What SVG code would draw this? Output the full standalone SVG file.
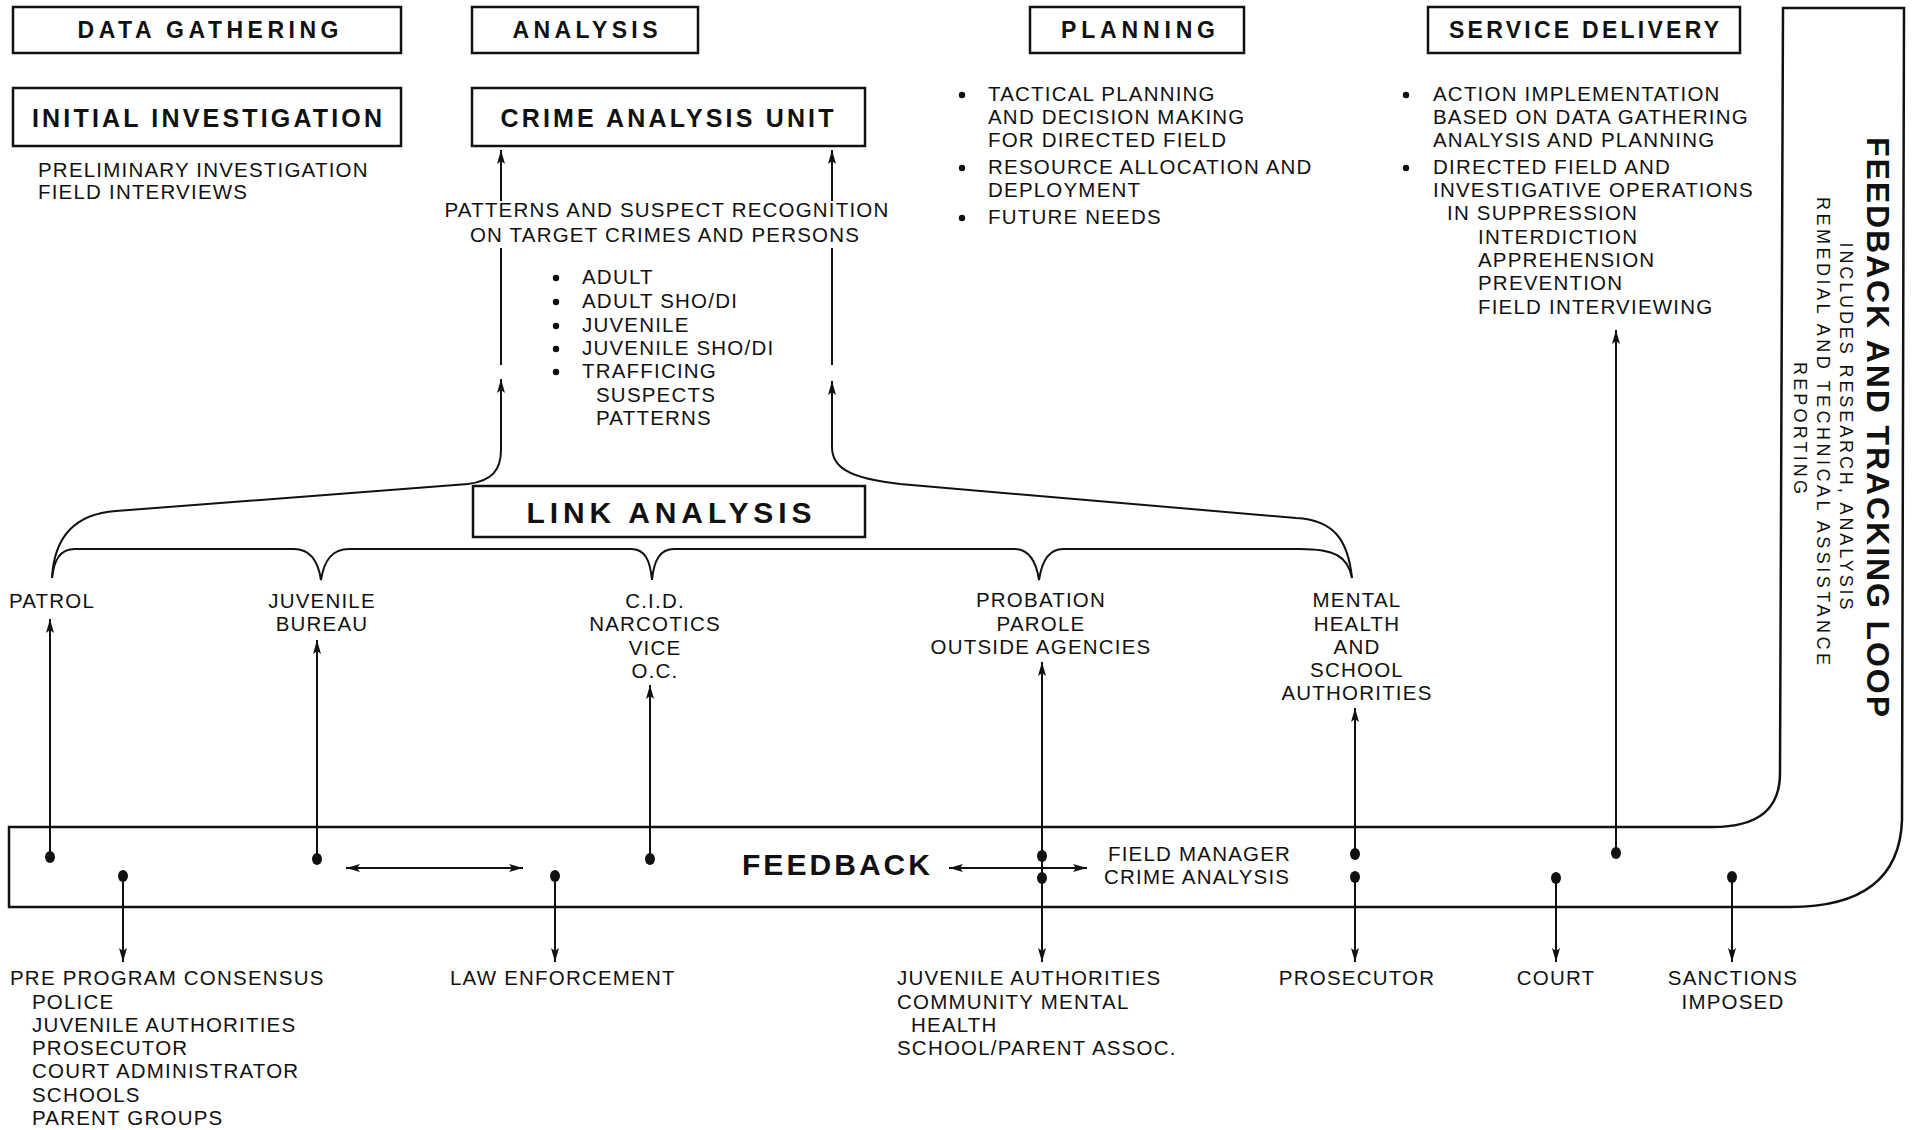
<svg xmlns="http://www.w3.org/2000/svg" width="1912" height="1130" viewBox="0 0 1912 1130">
  <defs>
    <marker id="ah" viewBox="0 0 14 8" refX="14" refY="4" markerWidth="14" markerHeight="8" markerUnits="userSpaceOnUse" orient="auto-start-reverse">
      <path d="M0,0 L14,4 L0,8 L3,4 z" fill="#111"/>
    </marker>
    <style>
      .box { fill: none; stroke: #111; stroke-width: 2.5; }
      .ln { fill: none; stroke: #111; stroke-width: 2; }
      .arr { fill: none; stroke: #111; stroke-width: 2; marker-end: url(#ah); }
      .dbl { fill: none; stroke: #111; stroke-width: 2; marker-start: url(#ah); marker-end: url(#ah); }
      .dot { fill: #111; }
      text { font-family: "Liberation Sans", Arial, sans-serif; fill: #111; }
      .hd { font-weight: bold; font-size: 23px; text-anchor: middle; }
      .hd2 { font-weight: bold; font-size: 25px; text-anchor: middle; }
      .t { font-size: 20.5px; letter-spacing: 1.2px; }
      .c { text-anchor: middle; }
      .vt { font-size: 18px; text-anchor: middle; }
    </style>
  </defs>
  <rect width="1912" height="1130" fill="#fff"/>

  <!-- stage headers -->
  <g id="data-gathering">
    <rect class="box" x="13" y="7" width="388" height="46"/>
    <text class="hd" x="208" y="38" textLength="261">DATA GATHERING</text>
  </g>
  <g id="analysis">
    <rect class="box" x="472" y="7" width="226" height="46"/>
    <text class="hd" x="585" y="38" textLength="145">ANALYSIS</text>
  </g>
  <g id="planning">
    <rect class="box" x="1030" y="7" width="214" height="46"/>
    <text class="hd" x="1138" y="38" textLength="154">PLANNING</text>
  </g>
  <g id="service-delivery">
    <rect class="box" x="1428" y="7" width="312" height="46"/>
    <text class="hd" x="1584" y="38" textLength="270">SERVICE DELIVERY</text>
  </g>

  <!-- second row -->
  <g id="initial-investigation">
    <rect class="box" x="13" y="88" width="388" height="58"/>
    <text class="hd2" x="207" y="127" textLength="350">INITIAL INVESTIGATION</text>
    <text class="t" x="38" y="177">PRELIMINARY INVESTIGATION</text>
    <text class="t" x="38" y="199">FIELD INTERVIEWS</text>
  </g>
  <g id="crime-analysis-unit">
    <rect class="box" x="472" y="88" width="393" height="58"/>
    <text class="hd2" x="667" y="127" textLength="333">CRIME ANALYSIS UNIT</text>
  </g>

  <g id="recognition">
    <text class="t c" x="667" y="217">PATTERNS AND SUSPECT RECOGNITION</text>
    <text class="t c" x="665" y="242">ON TARGET CRIMES AND PERSONS</text>
    <circle class="dot" cx="556" cy="278" r="3.2"/>
    <circle class="dot" cx="556" cy="302" r="3.2"/>
    <circle class="dot" cx="556" cy="326" r="3.2"/>
    <circle class="dot" cx="556" cy="349" r="3.2"/>
    <circle class="dot" cx="556" cy="372" r="3.2"/>
    <text class="t" x="582" y="284">ADULT</text>
    <text class="t" x="582" y="308">ADULT SHO/DI</text>
    <text class="t" x="582" y="332">JUVENILE</text>
    <text class="t" x="582" y="355">JUVENILE SHO/DI</text>
    <text class="t" x="582" y="378">TRAFFICING</text>
    <text class="t" x="596" y="402">SUSPECTS</text>
    <text class="t" x="596" y="425">PATTERNS</text>
  </g>

  <g id="planning-items">
    <circle class="dot" cx="962" cy="95" r="3.2"/>
    <circle class="dot" cx="962" cy="168" r="3.2"/>
    <circle class="dot" cx="962" cy="218" r="3.2"/>
    <text class="t" x="988" y="101">TACTICAL PLANNING</text>
    <text class="t" x="988" y="124">AND DECISION MAKING</text>
    <text class="t" x="988" y="147">FOR DIRECTED FIELD</text>
    <text class="t" x="988" y="174">RESOURCE ALLOCATION AND</text>
    <text class="t" x="988" y="197">DEPLOYMENT</text>
    <text class="t" x="988" y="224">FUTURE NEEDS</text>
  </g>

  <g id="service-items">
    <circle class="dot" cx="1406" cy="95" r="3.2"/>
    <circle class="dot" cx="1406" cy="168" r="3.2"/>
    <text class="t" x="1433" y="101">ACTION IMPLEMENTATION</text>
    <text class="t" x="1433" y="124">BASED ON DATA GATHERING</text>
    <text class="t" x="1433" y="147">ANALYSIS AND PLANNING</text>
    <text class="t" x="1433" y="174">DIRECTED FIELD AND</text>
    <text class="t" x="1433" y="197">INVESTIGATIVE OPERATIONS</text>
    <text class="t" x="1447" y="220">IN SUPPRESSION</text>
    <text class="t" x="1478" y="244">INTERDICTION</text>
    <text class="t" x="1478" y="267">APPREHENSION</text>
    <text class="t" x="1478" y="290">PREVENTION</text>
    <text class="t" x="1478" y="314">FIELD INTERVIEWING</text>
  </g>

  <g id="link-analysis">
    <rect class="box" x="473" y="486" width="392" height="51"/>
    <text x="669" y="523" font-size="30" font-weight="bold" text-anchor="middle" textLength="285">LINK ANALYSIS</text>
  </g>

  <!-- source units -->
  <g id="patrol">
    <text class="t c" x="52" y="608">PATROL</text>
  </g>
  <g id="juvenile-bureau">
    <text class="t c" x="322" y="608">JUVENILE</text>
    <text class="t c" x="322" y="631">BUREAU</text>
  </g>
  <g id="cid">
    <text class="t c" x="655" y="608">C.I.D.</text>
    <text class="t c" x="655" y="631">NARCOTICS</text>
    <text class="t c" x="655" y="655">VICE</text>
    <text class="t c" x="655" y="678">O.C.</text>
  </g>
  <g id="probation">
    <text class="t c" x="1041" y="607">PROBATION</text>
    <text class="t c" x="1041" y="631">PAROLE</text>
    <text class="t c" x="1041" y="654">OUTSIDE AGENCIES</text>
  </g>
  <g id="mental-health">
    <text class="t c" x="1357" y="607">MENTAL</text>
    <text class="t c" x="1357" y="631">HEALTH</text>
    <text class="t c" x="1357" y="654">AND</text>
    <text class="t c" x="1357" y="677">SCHOOL</text>
    <text class="t c" x="1357" y="700">AUTHORITIES</text>
  </g>

  <!-- feedback band and tracking loop -->
  <g id="feedback-loop">
    <path class="box" d="M9 827 L1712 827 C1760 827 1780 808 1780 773 L1783 8 L1904 8 L1902 820 C1900 878 1862 907 1790 907 L9 907 Z"/>
    <text x="742" y="875" font-size="30" font-weight="bold" textLength="188">FEEDBACK</text>
    <text class="t" x="1108" y="861">FIELD MANAGER</text>
    <text class="t" x="1104" y="884">CRIME ANALYSIS</text>
    <text transform="translate(1867,427) rotate(90)" font-size="32" font-weight="bold" text-anchor="middle" textLength="580">FEEDBACK AND TRACKING LOOP</text>
    <text class="vt" transform="translate(1840,426) rotate(90)" textLength="367">INCLUDES RESEARCH, ANALYSIS</text>
    <text class="vt" transform="translate(1817,431) rotate(90)" textLength="468">REMEDIAL AND TECHNICAL ASSISTANCE</text>
    <text class="vt" transform="translate(1794,428) rotate(90)" textLength="132">REPORTING</text>
  </g>

  <!-- recipients -->
  <g id="pre-program">
    <text class="t" x="10" y="985">PRE PROGRAM CONSENSUS</text>
    <text class="t" x="32" y="1009">POLICE</text>
    <text class="t" x="32" y="1032">JUVENILE AUTHORITIES</text>
    <text class="t" x="32" y="1055">PROSECUTOR</text>
    <text class="t" x="32" y="1078">COURT ADMINISTRATOR</text>
    <text class="t" x="32" y="1102">SCHOOLS</text>
    <text class="t" x="32" y="1125">PARENT GROUPS</text>
  </g>
  <g id="law-enforcement">
    <text class="t" x="450" y="985">LAW ENFORCEMENT</text>
  </g>
  <g id="juvenile-authorities">
    <text class="t" x="897" y="985">JUVENILE AUTHORITIES</text>
    <text class="t" x="897" y="1009">COMMUNITY MENTAL</text>
    <text class="t" x="911" y="1032">HEALTH</text>
    <text class="t" x="897" y="1055">SCHOOL/PARENT ASSOC.</text>
  </g>
  <g id="prosecutor">
    <text class="t c" x="1357" y="985">PROSECUTOR</text>
  </g>
  <g id="court">
    <text class="t c" x="1556" y="985">COURT</text>
  </g>
  <g id="sanctions">
    <text class="t c" x="1733" y="985">SANCTIONS</text>
    <text class="t c" x="1733" y="1009">IMPOSED</text>
  </g>

  <!-- connectors -->
  <g id="connectors">
    <!-- link analysis braces -->
    <path class="arr" d="M52 578 C54 540 72 514 116 511 L468 484 C492 481 501 470 501 450 L501 379"/>
    <path class="arr" d="M1352 578 C1348 540 1334 520 1296 518 L900 484 C846 478 832 466 832 447 L832 381"/>
    <path class="ln" d="M52 578 C54 560 60 549 75 549 L294 549 C310 549 318 560 321 580 C324 560 332 549 349 549 L631 549 C645 549 650 560 652 580 C654 560 660 549 674 549 L1014 549 C1028 549 1036 560 1039 580 C1042 560 1050 549 1063 549 L1300 549 C1334 549 1348 556 1352 578"/>
    <!-- up to crime analysis unit -->
    <path class="ln" d="M501 365 L501 248"/>
    <path class="ln" d="M832 365 L832 248"/>
    <path class="arr" d="M501 201 L501 150"/>
    <path class="arr" d="M832 201 L832 150"/>

    <!-- feedback band to units -->
    <path class="arr" d="M50 857 L50 619"/>
    <path class="arr" d="M317 859 L317 640"/>
    <path class="arr" d="M650 859 L650 685"/>
    <path class="arr" d="M1042 856 L1042 662"/>
    <path class="arr" d="M1355 854 L1355 708"/>
    <path class="arr" d="M1616 853 L1616 330"/>
    <path class="ln" d="M1042 856 L1042 878"/>

    <!-- feedback band to recipients -->
    <path class="arr" d="M123 876 L123 962"/>
    <path class="arr" d="M555 876 L555 962"/>
    <path class="arr" d="M1042 878 L1042 962"/>
    <path class="arr" d="M1355 877 L1355 962"/>
    <path class="arr" d="M1556 878 L1556 962"/>
    <path class="arr" d="M1732 877 L1732 962"/>

    <!-- two-way arrows -->
    <path class="dbl" d="M346 868 L523 868"/>
    <path class="dbl" d="M949 868 L1087 868"/>

    <!-- junction points -->
    <ellipse class="dot" cx="50" cy="857" rx="5" ry="6"/>
    <ellipse class="dot" cx="317" cy="859" rx="5" ry="6"/>
    <ellipse class="dot" cx="650" cy="859" rx="5" ry="6"/>
    <ellipse class="dot" cx="1042" cy="856" rx="5" ry="6"/>
    <ellipse class="dot" cx="1355" cy="854" rx="5" ry="6"/>
    <ellipse class="dot" cx="1616" cy="853" rx="5" ry="6"/>
    <ellipse class="dot" cx="123" cy="876" rx="5" ry="6"/>
    <ellipse class="dot" cx="555" cy="876" rx="5" ry="6"/>
    <ellipse class="dot" cx="1042" cy="878" rx="5" ry="6"/>
    <ellipse class="dot" cx="1355" cy="877" rx="5" ry="6"/>
    <ellipse class="dot" cx="1556" cy="878" rx="5" ry="6"/>
    <ellipse class="dot" cx="1732" cy="877" rx="5" ry="6"/>
  </g>
</svg>
